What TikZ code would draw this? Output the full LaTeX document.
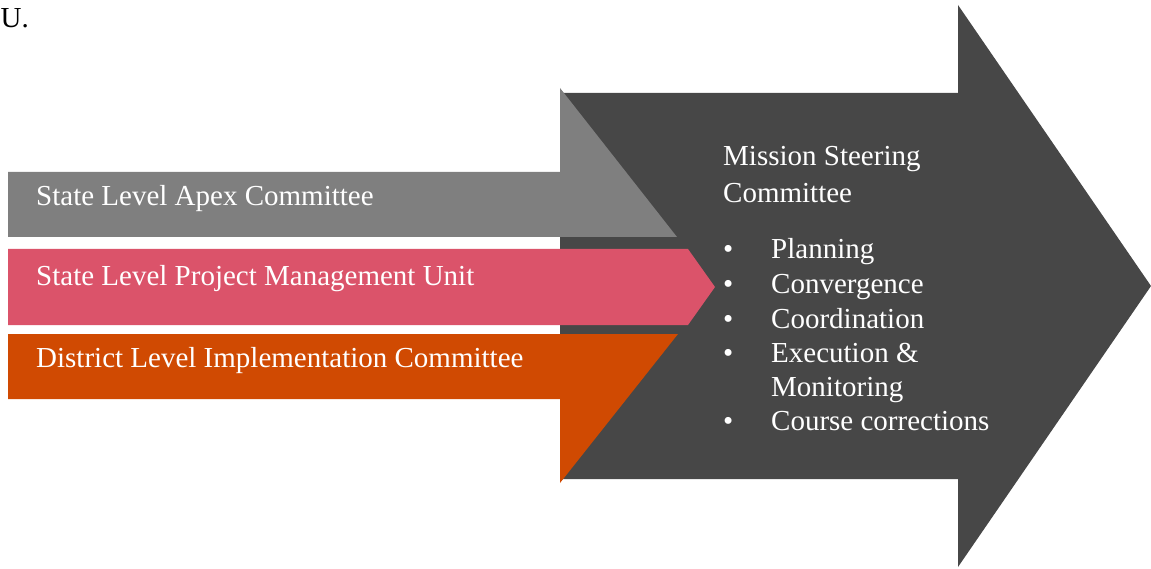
\documentclass[tikz,border=0pt]{standalone}
\usepackage{fontspec}
\setmainfont{Liberation Serif}
\definecolor{darkarrow}{HTML}{474747}
\definecolor{grayarrow}{HTML}{7F7F7F}
\definecolor{pinkarrow}{HTML}{DB536A}
\definecolor{orangearrow}{HTML}{D04A02}
\begin{document}
\begin{tikzpicture}[x=1pt,y=-1pt,
  txt/.style={font=\fontsize{29}{34}\selectfont, text=white, anchor=base west, inner sep=0pt},
]
\useasboundingbox (0,0) rectangle (1151,569);
% big dark arrow
\fill[darkarrow] (560,93) -- (958,93) -- (958,5) -- (1151,286) -- (958,567) -- (958,479) -- (560,479) -- cycle;
% gray half arrow
\fill[grayarrow] (8,172) -- (560,172) -- (560,88) -- (677,237) -- (8,237) -- cycle;
% pink arrow
\fill[pinkarrow] (8,249) -- (688,249) -- (715,287) -- (688,325) -- (8,325) -- cycle;
% orange half arrow
\fill[orangearrow] (8,334) -- (678,334) -- (560,483) -- (560,399) -- (8,399) -- cycle;

\node[txt, text=black] (u) at (0.5,28) {U.};
\node[txt] (apex) at (36,206) {State Level Apex Committee};
\node[txt] (pmu) at (36,286) {State Level Project Management Unit};
\node[txt] (dlic) at (36,367) {District Level Implementation Committee};

\node[txt] (msc1) at (723,166) {Mission Steering};
\node[txt] (msc2) at (723,203) {Committee};
\foreach \i/\t/\y/\b in {1/Planning/259/1, 2/Convergence/294/1, 3/Coordination/328/1, 4/Execution \&/362/1, 5/Monitoring/396/0, 6/Course corrections/430/1}{
  \node[txt] (item\i) at (771,\y) {\t};
  \ifnum\b=1 \node[txt] (bul\i) at (723,\y) {\textbullet};\fi
}
\end{tikzpicture}
\end{document}
